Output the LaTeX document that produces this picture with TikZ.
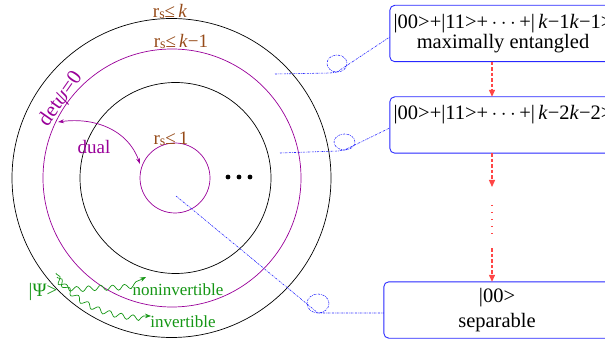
\documentclass[tikz,border=0pt]{standalone}
\usepackage{fontspec}
\setmainfont{Liberation Serif}
\usetikzlibrary{arrows.meta,decorations.pathmorphing,calc}
\definecolor{brn}{RGB}{150,75,25}
\definecolor{pur}{RGB}{153,0,153}
\definecolor{grn}{RGB}{20,150,20}
\definecolor{blu}{RGB}{40,40,255}
\definecolor{rd}{RGB}{255,70,70}
\begin{document}
\begin{tikzpicture}[x=1pt,y=-1pt,
  ring/.style={line width=0.7pt},
  box/.style={text=black, minimum width=226pt, minimum height=56pt, align=center, inner sep=0pt},
  boxline/.style={draw=blu, line width=0.9pt, rounded corners=5pt},
  boxfont/.style={font=\fontsize{20.5}{19.5}\selectfont},
  rlab/.style={inner sep=0pt, anchor=base, text=brn, font=\fontsize{19}{20}\selectfont},
  plab/.style={inner sep=0pt, text=pur, font=\fontsize{19}{20}\selectfont},
  glab/.style={inner sep=0pt, text=grn, font=\fontsize{17}{18}\selectfont},
  wave/.style={grn, line width=0.7pt, -{Stealth[length=6pt,width=4.5pt]}, decorate,
     decoration={snake, amplitude=2.6pt, segment length=12pt, post length=6pt, pre length=1pt}},
  redd/.style={rd, line width=1.3pt, dash pattern=on 3.5pt off 2pt, -{Triangle[length=7pt,width=6pt]}},
  redot/.style={rd, line width=1.3pt, dash pattern=on 1.5pt off 5.5pt},
  bl/.style={blu, line width=0.6pt, dash pattern=on 2pt off 1pt on 0.6pt off 1pt}]
\useasboundingbox (0,0) rectangle (605,339);
\clip (0,0) rectangle (605,339);
% rings
\draw[ring] (171.5,178) circle[radius=159.5];
\draw[ring, pur] (172,178) circle[radius=129];
\draw[ring] (175.5,178) circle[radius=95.5];
\draw[ring, pur] (175,178) circle[radius=35];
% ring labels
\node[rlab] (rk) at (170,18) {r{\fontsize{14}{14}\selectfont\raisebox{-1pt}{s}}≤\,\textit{k}};
\node[rlab] (rk1) at (181,48) {r{\fontsize{14}{14}\selectfont\raisebox{-1pt}{s}}≤\,\textit{k}−1};
\node[rlab] (r1) at (171,145) {r{\fontsize{14}{14}\selectfont\raisebox{-1pt}{s}}≤\,1};
\node[plab, rotate=55, font=\fontsize{21}{22}\selectfont] (det) at (61,99) {det\textit{ψ}=0};
\node[plab] (dual) at (94,147) {dual};
\coordinate (d1) at (58,122);
\coordinate (d2) at (140,164);
\draw[pur, line width=0.7pt, {Stealth[length=6pt,width=4pt]}-{Stealth[length=6pt,width=4pt]}] (d1) .. controls (95,117) and (128,130) .. (d2);
% dots
\fill (228,177) circle[radius=2.4];
\fill (239,177) circle[radius=2.4];
\fill (250,177) circle[radius=2.4];
% green
\node[glab, font=\fontsize{19}{20}\selectfont] (psi) at (43,292) {|Ψ>};
\node[glab, anchor=base] (nonin) at (178,295) {noninvertible};
\node[glab, anchor=base] (inv) at (183,327) {invertible};
\coordinate (w0) at (56,273);
\coordinate (w1) at (57,277);
\draw[wave] (w0) .. controls (62,292) and (80,285) .. (100,285) .. controls (120,285) and (132,285) .. (146,277);
\draw[wave] (w1) .. controls (75,300) and (100,316) .. (151,316);
% boxes
\node[box, boxfont] (b1) at (503,33.5) {|00>+|11>+\,$\cdots$\,+|\,\textit{k}−1\textit{k}−1>\\maximally entangled};
\node[box, boxfont] (b2) at (503,125) {|00>+|11>+\,$\cdots$\,+|\,\textit{k}−2\textit{k}−2>\\\strut};
\node[box, font=\fontsize{20.5}{25}\selectfont] (b3) at (497,310) {|00>\\separable};
\draw[boxline] (b1.south west) rectangle (b1.north east);
\draw[boxline] (b2.south west) rectangle (b2.north east);
\draw[boxline] (b3.south west) rectangle (b3.north east);
% red arrows
\coordinate (ax) at (492,0);
\coordinate (m1) at (492,187);
\coordinate (m2) at (492,205);
\coordinate (m3) at (492,236);
\coordinate (m4) at (492,248);
\draw[redd] (b1.south -| ax) -- (b2.north -| ax);
\draw[redd] (b2.south -| ax) -- (m1);
\draw[redot] (m2) -- (m3);
\draw[redd] (m4) -- (b3.north -| ax);
% blue connectors
\coordinate (c1) at (275,74);
\coordinate (c2) at (280,153);
\coordinate (c3) at (176,196);
\draw[bl] (c1) -- (330,73) -- (337,72) arc[start angle=90, end angle=450, x radius=10, y radius=8.5] -- ($(b1.west)+(0,3.5)$);
\draw[bl] (c2) -- (338,151) -- (344.5,150) arc[start angle=90, end angle=450, x radius=10.5, y radius=8] -- ($(b2.west)+(0,3)$);
\draw[bl] (c3) -- (318,313) arc[start angle=90, end angle=450, x radius=11, y radius=9.5] -- (333,313) -- ($(b3.west)+(0,3)$);
\end{tikzpicture}
\end{document}
